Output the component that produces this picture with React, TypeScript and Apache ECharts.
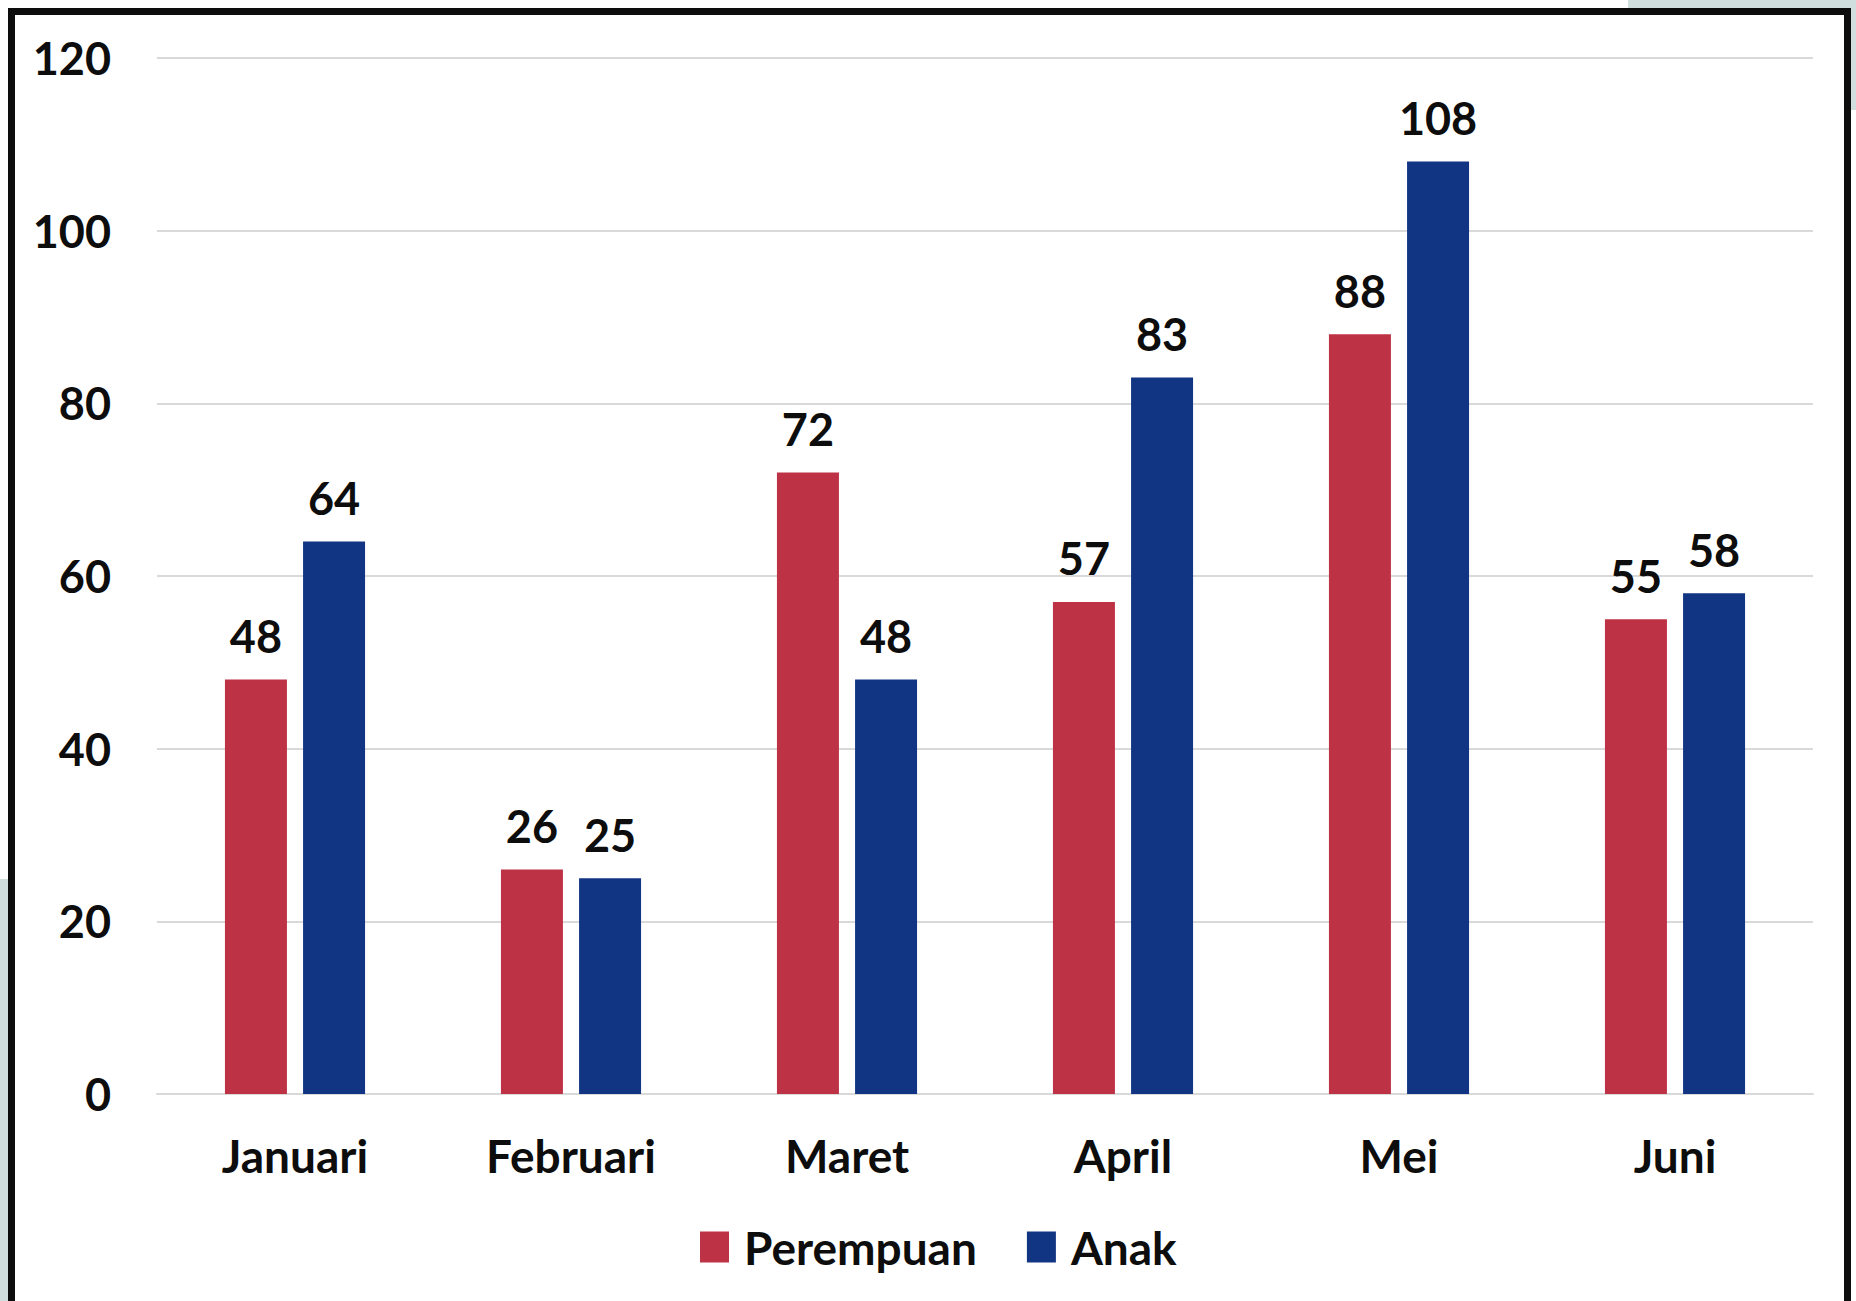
import React, { useEffect, useRef } from "react";
import * as echarts from "echarts";

const categories = ["Januari", "Februari", "Maret", "April", "Mei", "Juni"];
const perempuan = [48, 26, 72, 57, 88, 55];
const anak = [64, 25, 48, 83, 108, 58];
const seriesNames = ["Perempuan", "Anak"];
const yTicks = { min: 0, max: 120, interval: 20 };

const FONT = "Lato";
const TEXT = "#0d0d0d";
const RED = "#BE3245";
const BLUE = "#123583";
const TEAL = "#d0dfde";

export default function App() {
  const ref = useRef<HTMLDivElement>(null);
  useEffect(() => {
    if (!ref.current) return;
    const chart = echarts.init(ref.current, null, { renderer: "svg" });
    const labelStyle = {
      show: true,
      position: "top" as const,
      distance: 21,
      color: TEXT,
      fontFamily: FONT,
      fontWeight: "bold" as const,
      fontSize: 45,
    };
    chart.setOption({
      animation: false,
      backgroundColor: "#ffffff",
      textStyle: { fontFamily: FONT },
      graphic: {
        elements: [
          { type: "rect", shape: { x: 1628, y: 0, width: 228, height: 8 }, style: { fill: TEAL }, silent: true },
          { type: "rect", shape: { x: 1851, y: 0, width: 5, height: 110 }, style: { fill: TEAL }, silent: true },
          { type: "rect", shape: { x: 0, y: 879, width: 8, height: 422 }, style: { fill: TEAL }, silent: true },
          { type: "rect", shape: { x: 11.5, y: 11.5, width: 1836, height: 1330 }, style: { fill: "none", stroke: "#0d0d0d", lineWidth: 7 }, silent: true },
        ],
      },
      grid: { left: 157, right: 43, top: 58, bottom: 207, containLabel: false },
      legend: {
        data: seriesNames,
        left: 700,
        top: 1224,
        padding: 0,
        itemWidth: 29,
        itemHeight: 31,
        itemGap: 50,
        icon: "rect",
        textStyle: { color: TEXT, fontFamily: FONT, fontWeight: "bold", fontSize: 46, padding: [0, 0, 0, 10] },
      },
      xAxis: {
        type: "category",
        data: categories,
        axisLine: { show: true, lineStyle: { color: "#d9d9d9", width: 2 } },
        axisTick: { show: false },
        axisLabel: { color: TEXT, fontFamily: FONT, fontWeight: "bold", fontSize: 46, margin: 38 },
      },
      yAxis: {
        type: "value",
        min: yTicks.min,
        max: yTicks.max,
        interval: yTicks.interval,
        axisLine: { show: false },
        axisTick: { show: false },
        splitLine: { lineStyle: { color: "#d9d9d9", width: 2 } },
        axisLabel: { color: TEXT, fontFamily: FONT, fontWeight: "bold", fontSize: 45, margin: 46 },
      },
      series: [
        {
          name: seriesNames[0],
          type: "bar",
          data: perempuan,
          barWidth: 62,
          barGap: "26%",
          itemStyle: { color: RED },
          label: labelStyle,
        },
        {
          name: seriesNames[1],
          type: "bar",
          data: anak,
          barWidth: 62,
          barGap: "26%",
          itemStyle: { color: BLUE },
          label: labelStyle,
        },
      ],
    });
    return () => chart.dispose();
  }, []);
  return (
    <div
      ref={ref}
      style={{ position: "fixed", left: 0, top: 0, width: 1856, height: 1301 }}
    />
  );
}
